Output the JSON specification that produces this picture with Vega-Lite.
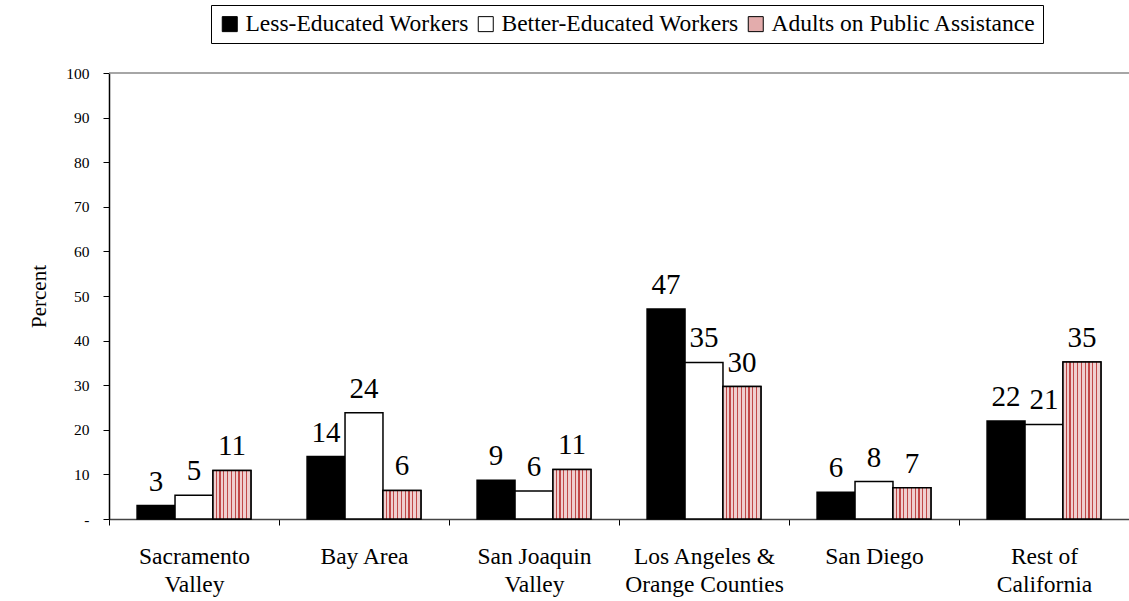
{
  "$schema": "https://vega.github.io/schema/vega-lite/v6.json",
  "width": 1020,
  "height": 446,
  "autosize": {"type": "none"},
  "padding": {"left": 109, "top": 73, "right": 0, "bottom": 82},
  "background": "white",
  "config": {
    "font": "Liberation Serif",
    "view": {"stroke": null},
    "axis": {"grid": false, "labelFont": "Liberation Serif", "titleFont": "Liberation Serif"},
    "legend": {"labelFont": "Liberation Serif", "titleFont": "Liberation Serif"},
    "text": {"font": "Liberation Serif"}
  },
  "data": {
    "values": [
      {"region": "Sacramento Valley", "group": "Less-Educated Workers", "value": 3.0},
      {"region": "Sacramento Valley", "group": "Better-Educated Workers", "value": 5.3},
      {"region": "Sacramento Valley", "group": "Adults on Public Assistance", "value": 10.9},
      {"region": "Bay Area", "group": "Less-Educated Workers", "value": 14.0},
      {"region": "Bay Area", "group": "Better-Educated Workers", "value": 23.8},
      {"region": "Bay Area", "group": "Adults on Public Assistance", "value": 6.4},
      {"region": "San Joaquin Valley", "group": "Less-Educated Workers", "value": 8.7},
      {"region": "San Joaquin Valley", "group": "Better-Educated Workers", "value": 6.3},
      {"region": "San Joaquin Valley", "group": "Adults on Public Assistance", "value": 11.1},
      {"region": "Los Angeles & Orange Counties", "group": "Less-Educated Workers", "value": 47.1},
      {"region": "Los Angeles & Orange Counties", "group": "Better-Educated Workers", "value": 35.1},
      {"region": "Los Angeles & Orange Counties", "group": "Adults on Public Assistance", "value": 29.7},
      {"region": "San Diego", "group": "Less-Educated Workers", "value": 6.0},
      {"region": "San Diego", "group": "Better-Educated Workers", "value": 8.4},
      {"region": "San Diego", "group": "Adults on Public Assistance", "value": 7.0},
      {"region": "Rest of California", "group": "Less-Educated Workers", "value": 22.0},
      {"region": "Rest of California", "group": "Better-Educated Workers", "value": 21.2},
      {"region": "Rest of California", "group": "Adults on Public Assistance", "value": 35.2}
    ]
  },
  "layer": [
    {
      "mark": {"type": "bar", "stroke": "black", "strokeWidth": 1.5},
      "encoding": {
        "x": {
          "field": "region", "type": "nominal",
          "sort": ["Sacramento Valley", "Bay Area", "San Joaquin Valley", "Los Angeles & Orange Counties", "San Diego", "Rest of California"],
          "scale": {"paddingInner": 0, "paddingOuter": 0},
          "axis": {
            "title": null, "labelAngle": 0, "labelFontSize": 23.5, "labelColor": "black",
            "labelPadding": 19, "tickSize": 6, "tickColor": "black", "tickBand": "extent",
            "domainColor": "#444", "domainWidth": 1.5, "labelLineHeight": 28,
            "labelOverlap": false, "labelLimit": 300,
            "labelExpr": "datum.value == 'Sacramento Valley' ? ['Sacramento','Valley'] : datum.value == 'San Joaquin Valley' ? ['San Joaquin','Valley'] : datum.value == 'Los Angeles & Orange Counties' ? ['Los Angeles &','Orange Counties'] : datum.value == 'Rest of California' ? ['Rest of','California'] : datum.label"
          }
        },
        "xOffset": {
          "field": "group", "type": "nominal",
          "sort": ["Less-Educated Workers", "Better-Educated Workers", "Adults on Public Assistance"],
          "scale": {"paddingInner": 0, "paddingOuter": 0.74}
        },
        "y": {
          "field": "value", "type": "quantitative",
          "scale": {"domain": [0, 100], "nice": false},
          "axis": {
            "title": "Percent", "titleFontSize": 21, "titleFontWeight": "normal", "titleColor": "black",
            "titlePadding": 16, "values": [0, 10, 20, 30, 40, 50, 60, 70, 80, 90, 100],
            "labelExpr": "datum.value == 0 ? '-' : datum.label",
            "labelFontSize": 15.5, "labelColor": "black", "labelPadding": 14,
            "tickSize": 6, "tickColor": "black", "domainColor": "black", "domainWidth": 1.5
          }
        },
        "fill": {
          "field": "group", "type": "nominal",
          "scale": {
            "domain": ["Less-Educated Workers", "Better-Educated Workers", "Adults on Public Assistance"],
            "range": ["black", "white", "#e3acac"]
          },
          "legend": {
            "orient": "none", "legendX": 102, "legendY": -68, "direction": "horizontal",
            "title": null, "symbolType": "square", "symbolSize": 225,
            "symbolStrokeColor": "black", "symbolStrokeWidth": 1, "symbolOpacity": 1,
            "labelFontSize": 23.5, "labelColor": "black",
            "labelOffset": 4, "columnPadding": 5, "padding": 7,
            "strokeColor": "black", "fillColor": "white", "labelLimit": 400
          }
        }
      }
    },
    {
      "transform": [{"filter": "datum.group === 'Adults on Public Assistance'"}],
      "mark": {
        "type": "bar", "stroke": "black", "strokeWidth": 1.5,
        "fill": {
          "gradient": "linear", "x1": 0, "y1": 0, "x2": 1, "y2": 0,
          "stops": [
            {"offset": 0, "color": "#efcfcf"}, {"offset": 0.072, "color": "#efcfcf"}, {"offset": 0.072, "color": "#c04848"}, {"offset": 0.1, "color": "#c04848"},
            {"offset": 0.1, "color": "#efcfcf"}, {"offset": 0.172, "color": "#efcfcf"}, {"offset": 0.172, "color": "#c04848"}, {"offset": 0.2, "color": "#c04848"},
            {"offset": 0.2, "color": "#efcfcf"}, {"offset": 0.272, "color": "#efcfcf"}, {"offset": 0.272, "color": "#c04848"}, {"offset": 0.3, "color": "#c04848"},
            {"offset": 0.3, "color": "#efcfcf"}, {"offset": 0.372, "color": "#efcfcf"}, {"offset": 0.372, "color": "#c04848"}, {"offset": 0.4, "color": "#c04848"},
            {"offset": 0.4, "color": "#efcfcf"}, {"offset": 0.472, "color": "#efcfcf"}, {"offset": 0.472, "color": "#c04848"}, {"offset": 0.5, "color": "#c04848"},
            {"offset": 0.5, "color": "#efcfcf"}, {"offset": 0.572, "color": "#efcfcf"}, {"offset": 0.572, "color": "#c04848"}, {"offset": 0.6, "color": "#c04848"},
            {"offset": 0.6, "color": "#efcfcf"}, {"offset": 0.672, "color": "#efcfcf"}, {"offset": 0.672, "color": "#c04848"}, {"offset": 0.7, "color": "#c04848"},
            {"offset": 0.7, "color": "#efcfcf"}, {"offset": 0.772, "color": "#efcfcf"}, {"offset": 0.772, "color": "#c04848"}, {"offset": 0.8, "color": "#c04848"},
            {"offset": 0.8, "color": "#efcfcf"}, {"offset": 0.872, "color": "#efcfcf"}, {"offset": 0.872, "color": "#c04848"}, {"offset": 0.9, "color": "#c04848"},
            {"offset": 0.9, "color": "#efcfcf"}, {"offset": 1, "color": "#efcfcf"}
          ]
        }
      },
      "encoding": {
        "x": {"field": "region", "type": "nominal", "sort": ["Sacramento Valley", "Bay Area", "San Joaquin Valley", "Los Angeles & Orange Counties", "San Diego", "Rest of California"]},
        "xOffset": {"field": "group", "type": "nominal", "sort": ["Less-Educated Workers", "Better-Educated Workers", "Adults on Public Assistance"]},
        "y": {"field": "value", "type": "quantitative"}
      }
    },
    {
      "mark": {"type": "text", "baseline": "alphabetic", "align": "center", "dy": -15, "fontSize": 29, "color": "black"},
      "encoding": {
        "x": {"field": "region", "type": "nominal", "sort": ["Sacramento Valley", "Bay Area", "San Joaquin Valley", "Los Angeles & Orange Counties", "San Diego", "Rest of California"]},
        "xOffset": {"field": "group", "type": "nominal", "sort": ["Less-Educated Workers", "Better-Educated Workers", "Adults on Public Assistance"]},
        "y": {"field": "value", "type": "quantitative"},
        "text": {"field": "value", "type": "quantitative", "format": ".0f"}
      }
    },
    {
      "data": {"values": [{"top": 100}]},
      "mark": {"type": "rule", "color": "#888", "strokeWidth": 1.5},
      "encoding": {"y": {"field": "top", "type": "quantitative"}}
    }
  ]
}
